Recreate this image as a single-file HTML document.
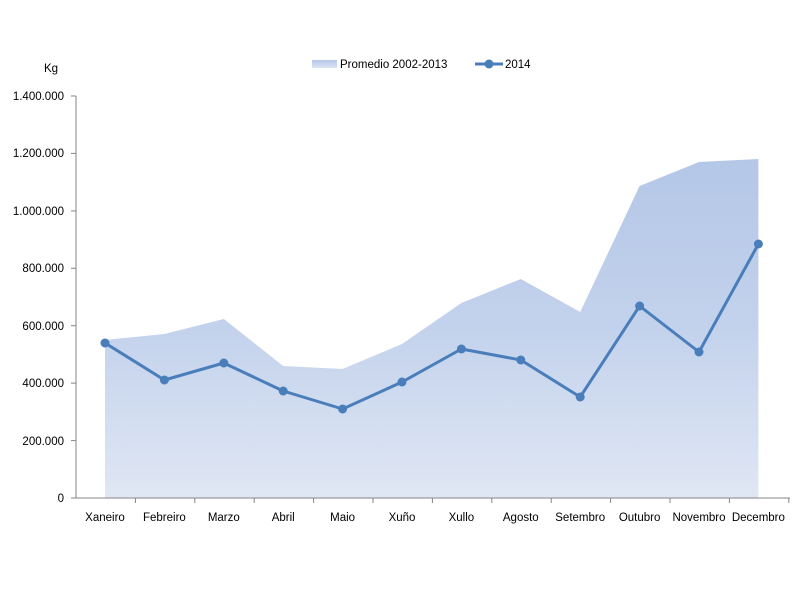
<!DOCTYPE html>
<html><head><meta charset="utf-8"><style>body{margin:0;background:#fff}svg{display:block}text{font-family:"Liberation Sans",sans-serif;font-size:11.5px;fill:#000}</style></head>
<body>
<svg width="802" height="600" viewBox="0 0 802 600">
<defs><linearGradient id="g" x1="0" y1="159" x2="0" y2="498" gradientUnits="userSpaceOnUse"><stop offset="0" stop-color="#b4c7e7"/><stop offset="0.5" stop-color="#c3d2ec"/><stop offset="1" stop-color="#e0e7f4"/></linearGradient>
<linearGradient id="lg" x1="0" y1="0" x2="0" y2="1"><stop offset="0" stop-color="#b4c7e7"/><stop offset="1" stop-color="#dbe4f3"/></linearGradient></defs>
<text x="44" y="72">Kg</text>
<rect x="312" y="60" width="25" height="8" fill="url(#lg)"/>
<text x="340" y="68">Promedio 2002-2013</text>
<line x1="475" y1="64" x2="503" y2="64" stroke="#4a7ebb" stroke-width="3"/><circle cx="489" cy="64" r="4.5" fill="#4a7ebb"/>
<text x="505" y="68">2014</text>
<polygon fill="url(#g)" points="105,498 105,340 164.4,334 223.8,319 283.2,366 342.6,369 402,344 461.4,303 520.8,279 580.2,312 639.6,186 699,162 758.4,159 758.4,498"/>
<g stroke="#868686" stroke-width="1">
<line x1="76" y1="96" x2="76" y2="498"/><line x1="76" y1="498" x2="790" y2="498"/>
<line x1="71" y1="96" x2="76" y2="96"/><line x1="71" y1="153.4" x2="76" y2="153.4"/><line x1="71" y1="210.9" x2="76" y2="210.9"/><line x1="71" y1="268.3" x2="76" y2="268.3"/><line x1="71" y1="325.7" x2="76" y2="325.7"/><line x1="71" y1="383.1" x2="76" y2="383.1"/><line x1="71" y1="440.6" x2="76" y2="440.6"/><line x1="71" y1="498" x2="76" y2="498"/>
<line x1="135.4" y1="498" x2="135.4" y2="503"/><line x1="194.8" y1="498" x2="194.8" y2="503"/><line x1="254.2" y1="498" x2="254.2" y2="503"/><line x1="313.6" y1="498" x2="313.6" y2="503"/><line x1="373" y1="498" x2="373" y2="503"/><line x1="432.4" y1="498" x2="432.4" y2="503"/><line x1="491.8" y1="498" x2="491.8" y2="503"/><line x1="551.2" y1="498" x2="551.2" y2="503"/><line x1="610.6" y1="498" x2="610.6" y2="503"/><line x1="670" y1="498" x2="670" y2="503"/><line x1="729.4" y1="498" x2="729.4" y2="503"/><line x1="788.8" y1="498" x2="788.8" y2="503"/>
</g>
<g text-anchor="end">
<text x="64" y="100">1.400.000</text><text x="64" y="157">1.200.000</text><text x="64" y="215">1.000.000</text><text x="64" y="272">800.000</text><text x="64" y="330">600.000</text><text x="64" y="387">400.000</text><text x="64" y="445">200.000</text><text x="64" y="502">0</text>
</g>
<g text-anchor="middle">
<text x="105" y="521">Xaneiro</text><text x="164.4" y="521">Febreiro</text><text x="223.8" y="521">Marzo</text><text x="283.2" y="521">Abril</text><text x="342.6" y="521">Maio</text><text x="402" y="521">Xuño</text><text x="461.4" y="521">Xullo</text><text x="520.8" y="521">Agosto</text><text x="580.2" y="521">Setembro</text><text x="639.6" y="521">Outubro</text><text x="699" y="521">Novembro</text><text x="758.4" y="521">Decembro</text>
</g>
<polyline fill="none" stroke="#4a7ebb" stroke-width="3" stroke-linejoin="round" points="105,343 164.4,380 223.8,363 283.2,391 342.6,409 402,382 461.4,349 520.8,360 580.2,397 639.6,306 699,352 758.4,244"/>
<g fill="#4a7ebb">
<circle cx="105" cy="343" r="4.5"/><circle cx="164.4" cy="380" r="4.5"/><circle cx="223.8" cy="363" r="4.5"/><circle cx="283.2" cy="391" r="4.5"/><circle cx="342.6" cy="409" r="4.5"/><circle cx="402" cy="382" r="4.5"/><circle cx="461.4" cy="349" r="4.5"/><circle cx="520.8" cy="360" r="4.5"/><circle cx="580.2" cy="397" r="4.5"/><circle cx="639.6" cy="306" r="4.5"/><circle cx="699" cy="352" r="4.5"/><circle cx="758.4" cy="244" r="4.5"/>
</g>
</svg>
</body></html>
